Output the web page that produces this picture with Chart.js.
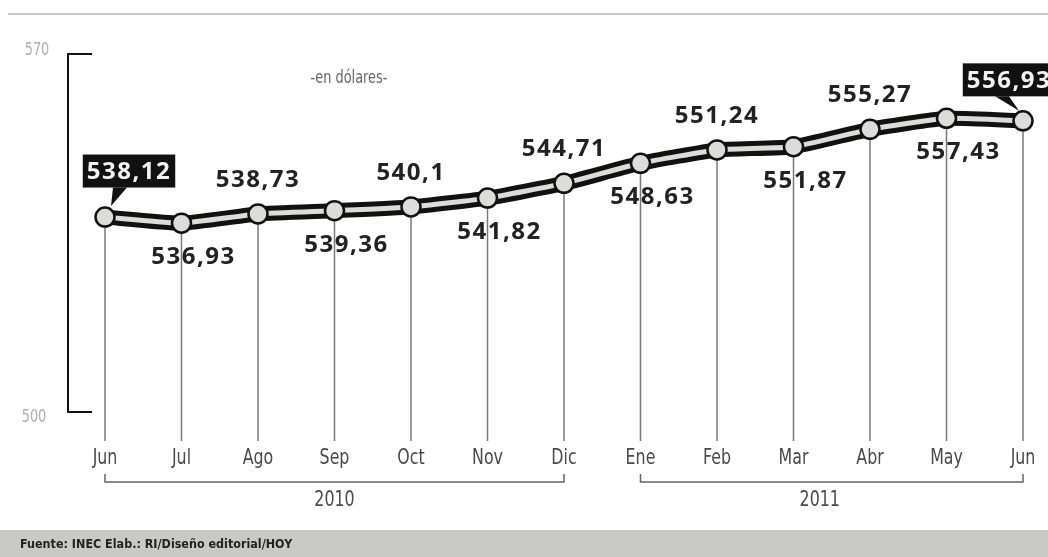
<!DOCTYPE html>
<html>
<head>
<meta charset="utf-8">
<script src="https://cdn.jsdelivr.net/npm/chart.js@4.4.1/dist/chart.umd.min.js"></script>
<style>
  html, body { margin: 0; padding: 0; background: #ffffff; }
  #wrap { width: 1048px; height: 557px; }
</style>
</head>
<body>
<div id="wrap"><canvas id="c" width="1048" height="557"></canvas></div>
<script>
// Salario / canasta mensual, en dólares
const months = ['Jun', 'Jul', 'Ago', 'Sep', 'Oct', 'Nov', 'Dic', 'Ene', 'Feb', 'Mar', 'Abr', 'May', 'Jun'];
const values = [538.12, 536.93, 538.73, 539.36, 540.1, 541.82, 544.71, 548.63, 551.24, 551.87, 555.27, 557.43, 556.93];
const years = ['2010', '2011'];
const yearFirstIndex = [0, 7];
const yearLastIndex = [6, 12];
const yTicks = [500, 570];
const unitNote = '-en dólares-';
const sourceNote = 'Fuente: INEC Elab.: RI/Diseño editorial/HOY';

const baseFont = '"DejaVu Sans", sans-serif';
const labelFont = '"Open Sans", "Noto Sans", sans-serif';

function fmt(v) { return String(v).replace('.', ','); }

// text squeezed horizontally to get a condensed look
function narrowText(ctx, txt, x, y, squeeze) {
  ctx.save();
  ctx.translate(x, y);
  ctx.scale(squeeze, 1);
  ctx.fillText(txt, 0, 0);
  ctx.restore();
}

const decor = {
  id: 'decor',
  beforeDraw(chart) {
    const ctx = chart.ctx;
    ctx.save();
    ctx.fillStyle = '#ffffff';
    ctx.fillRect(0, 0, chart.width, chart.height);
    // top rule
    ctx.fillStyle = '#cacaca';
    ctx.fillRect(8, 13, chart.width - 8, 2);
    // footer band
    ctx.fillStyle = '#c9c9c5';
    ctx.fillRect(0, 530, chart.width, 27);
    ctx.fillStyle = '#222';
    ctx.font = 'bold 13px ' + baseFont;
    ctx.textBaseline = 'middle';
    ctx.textAlign = 'left';
    narrowText(ctx, sourceNote, 20, 545, 0.86);
    ctx.restore();
  },
  beforeDatasetsDraw(chart) {
    const ctx = chart.ctx;
    const x = chart.scales.x, y = chart.scales.y;
    const meta = chart.getDatasetMeta(0);
    ctx.save();
    // drop lines from each point
    ctx.strokeStyle = '#7a7a7a';
    ctx.lineWidth = 1.5;
    meta.data.forEach(p => {
      ctx.beginPath();
      ctx.moveTo(p.x, p.y);
      ctx.lineTo(p.x, 441);
      ctx.stroke();
    });
    // y-axis bracket
    const yTop = y.getPixelForValue(yTicks[1]);
    const yBot = y.getPixelForValue(yTicks[0]);
    ctx.strokeStyle = '#111';
    ctx.lineWidth = 2;
    ctx.beginPath();
    ctx.moveTo(92, yTop); ctx.lineTo(68, yTop); ctx.lineTo(68, yBot); ctx.lineTo(92, yBot);
    ctx.stroke();
    ctx.fillStyle = '#b0b0b0';
    ctx.font = '18px ' + baseFont;
    ctx.textAlign = 'center';
    ctx.textBaseline = 'middle';
    narrowText(ctx, String(yTicks[1]), 37, yTop - 4, 0.72);
    narrowText(ctx, String(yTicks[0]), 34, yBot + 5, 0.72);
    // unit note
    ctx.fillStyle = '#666';
    ctx.font = '17px ' + baseFont;
    narrowText(ctx, unitNote, 349, 79, 0.76);
    // month labels
    ctx.fillStyle = '#4a4a4a';
    ctx.font = '22px ' + baseFont;
    months.forEach((m, i) => narrowText(ctx, m, x.getPixelForValue(i), 458, 0.72));
    // year brackets
    ctx.strokeStyle = '#666';
    ctx.lineWidth = 1.5;
    years.forEach((yr, k) => {
      const a = x.getPixelForValue(yearFirstIndex[k]);
      const b = x.getPixelForValue(yearLastIndex[k]);
      ctx.beginPath();
      ctx.moveTo(a, 474); ctx.lineTo(a, 482); ctx.lineTo(b, 482); ctx.lineTo(b, 474);
      ctx.stroke();
      ctx.fillStyle = '#4a4a4a';
      ctx.font = '22px ' + baseFont;
      narrowText(ctx, yr, (a + b) / 2 + (k === 1 ? -12 : 0), 500, 0.72);
    });
    ctx.restore();
  },
  afterDatasetsDraw(chart) {
    const ctx = chart.ctx;
    const meta = chart.getDatasetMeta(1);
    const n = values.length;
    ctx.save();
    ctx.textAlign = 'center';
    ctx.textBaseline = 'middle';
    ctx.font = 'bold 24px ' + labelFont;
    if ('letterSpacing' in ctx) ctx.letterSpacing = '1.5px';
    meta.data.forEach((p, i) => {
      const txt = fmt(values[i]);
      if (i === 0 || i === n - 1) {
        // boxed end labels with a pointer
        const w = ctx.measureText(txt).width + 8;
        const h = 33;
        const cx = i === 0 ? p.x + 24 : p.x - 14;
        const cy = i === 0 ? p.y - 46 : p.y - 41;
        ctx.fillStyle = '#111';
        ctx.fillRect(cx - w / 2, cy - h / 2, w, h);
        ctx.beginPath();
        if (i === 0) {
          ctx.moveTo(p.x + 8, cy + h / 2);
          ctx.lineTo(p.x + 22, cy + h / 2);
          ctx.lineTo(p.x + 6, p.y - 11);
        } else {
          ctx.moveTo(p.x - 28, cy + h / 2);
          ctx.lineTo(p.x - 14, cy + h / 2);
          ctx.lineTo(p.x - 4, p.y - 10);
        }
        ctx.closePath();
        ctx.fill();
        ctx.fillStyle = '#f2f2f2';
        ctx.fillText(txt, cx, cy + 1);
      } else {
        const above = i % 2 === 0;
        ctx.fillStyle = '#222';
        ctx.fillText(txt, p.x + (above ? 0 : 12), p.y + (above ? -34 : 34));
      }
    });
    ctx.restore();
  }
};

new Chart(document.getElementById('c'), {
  type: 'line',
  data: {
    labels: months,
    datasets: [
      {
        // dark casing of the line
        data: values,
        order: 1,
        borderColor: '#111',
        borderWidth: 15,
        pointRadius: 0,
        tension: 0.15,
        borderJoinStyle: 'round',
        borderCapStyle: 'round',
        clip: false
      },
      {
        // light core of the line with the markers
        data: values,
        order: 0,
        borderColor: '#dcdcd8',
        borderWidth: 5,
        tension: 0.15,
        pointRadius: 9.5,
        pointBackgroundColor: '#dcdcd8',
        pointBorderColor: '#111',
        pointBorderWidth: 2.5,
        borderJoinStyle: 'round',
        clip: false
      }
    ]
  },
  options: {
    responsive: false,
    animation: false,
    devicePixelRatio: 1,
    layout: { padding: { left: 105, right: 25, top: 54, bottom: 145 } },
    plugins: { legend: { display: false }, tooltip: { enabled: false } },
    scales: {
      x: { display: false, offset: false },
      y: { display: false, min: 500, max: 570 }
    }
  },
  plugins: [decor]
});
</script>
</body>
</html>
